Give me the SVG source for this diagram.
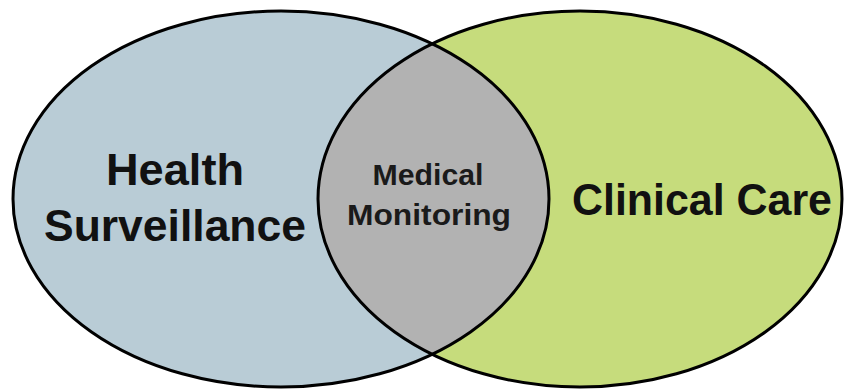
<svg xmlns="http://www.w3.org/2000/svg" width="844" height="390" viewBox="0 0 844 390">
  <style>
    .big { font-family: "Liberation Sans", Arial, sans-serif; font-weight: bold; font-size: 45px; fill: #111; text-anchor: middle; }
    .mid { font-family: "Liberation Sans", Arial, sans-serif; font-weight: bold; font-size: 29px; fill: #1a1a1a; text-anchor: middle; }
    .outline { fill: none; stroke: #000; stroke-width: 3; }
  </style>
  <defs>
    <clipPath id="leftClip">
      <ellipse cx="281" cy="199" rx="268" ry="188"/>
    </clipPath>
  </defs>
  <rect width="844" height="390" fill="#ffffff"/>
  <g id="health-surveillance">
    <ellipse cx="281" cy="199" rx="268" ry="188" fill="#b9ccd6"/>
  </g>
  <g id="clinical-care">
    <ellipse cx="580" cy="199" rx="262" ry="188" fill="#c6dc7c"/>
  </g>
  <g id="medical-monitoring">
    <ellipse cx="580" cy="199" rx="262" ry="188" fill="#b2b2b2" clip-path="url(#leftClip)"/>
  </g>
  <g id="outlines">
    <ellipse class="outline" cx="281" cy="199" rx="268" ry="188"/>
    <ellipse class="outline" cx="580" cy="199" rx="262" ry="188"/>
  </g>
  <g id="labels">
    <text class="big" x="175" y="185" textLength="138" lengthAdjust="spacingAndGlyphs">Health</text>
    <text class="big" x="175" y="241" textLength="262" lengthAdjust="spacingAndGlyphs">Surveillance</text>
    <text class="mid" x="428" y="185" textLength="111" lengthAdjust="spacingAndGlyphs">Medical</text>
    <text class="mid" x="429" y="225" textLength="164" lengthAdjust="spacingAndGlyphs">Monitoring</text>
    <text class="big" x="702" y="215" textLength="260" lengthAdjust="spacingAndGlyphs">Clinical Care</text>
  </g>
</svg>
